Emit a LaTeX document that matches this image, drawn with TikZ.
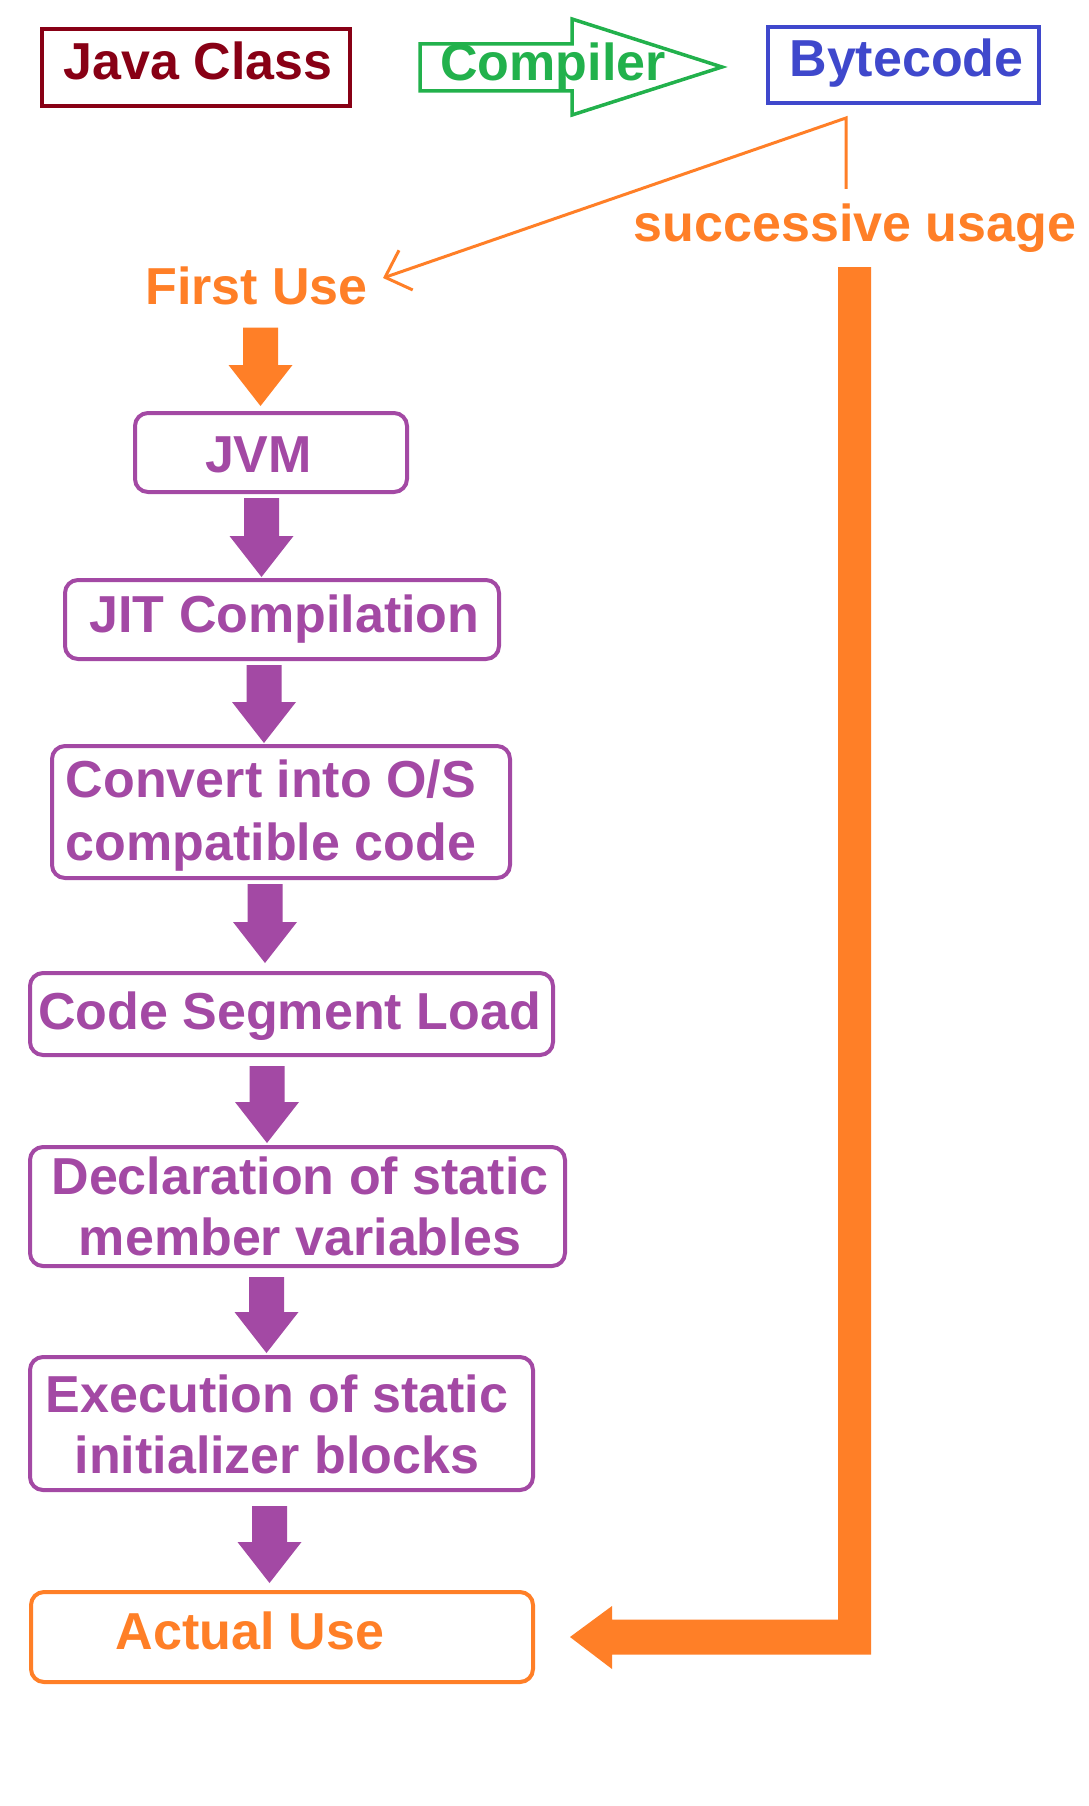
\documentclass[tikz,border=0pt]{standalone}
\usepackage{fontspec}
\setmainfont{Liberation Sans}
\usetikzlibrary{arrows.meta,calc}
\definecolor{jdred}{HTML}{880015}
\definecolor{jgreen}{HTML}{22B14C}
\definecolor{jblue}{HTML}{3F48CC}
\definecolor{jorange}{HTML}{FF7F27}
\definecolor{jpurple}{HTML}{A349A4}
\tikzset{
  txt/.style={inner sep=0pt, anchor=base, font=\fontsize{52}{62}\selectfont\bfseries},
  sqbox/.style={draw=#1, line width=4pt, inner sep=0pt},
  rbox/.style={draw=#1, line width=4pt, rounded corners=13pt, inner sep=0pt},
}
% #1 colour, #2 from node, #3 to node, #4 x centre, #5 gap below source, #6 gap above target
\newcommand\blockarrow[6]{%
  \fill[#1] let \p1=(#2.south), \p2=(#3.north) in
    ({#4pt-17.5pt},{\y1-#5pt}) -- ({#4pt+17.5pt},{\y1-#5pt}) --
    ({#4pt+17.5pt},{\y2+#6pt+41pt}) -- ({#4pt+32pt},{\y2+#6pt+41pt}) --
    ({#4pt},{\y2+#6pt}) -- ({#4pt-32pt},{\y2+#6pt+41pt}) --
    ({#4pt-17.5pt},{\y2+#6pt+41pt}) -- cycle;}
\begin{document}
\begin{tikzpicture}[x=1pt,y=-1pt]
\useasboundingbox[fill=white] (0,0) rectangle (1088,1806);

% top row
\node[sqbox=jdred, minimum width=308pt, minimum height=77pt] (javabox) at (196,67.5) {};
\node[txt, text=jdred] (java) at (198,80) {Java Class};

\draw[jgreen, line width=3.5pt, line join=miter]
  (420,44) -- (572,44) -- (572,19) -- (722,67) -- (572,115) -- (572,91) -- (420,91) -- cycle;
\node[txt, text=jgreen] (compiler) at (553,81) {Compiler};

\node[sqbox=jblue, minimum width=271pt, minimum height=76pt] (bytecode) at (903.5,65) {};
\node[txt, text=jblue] (bytetxt) at (906.5,77) {Bytecode};

% orange labels and thin connector
\node[txt, text=jorange] (succ) at (855,241) {successive usage};
\node[txt, text=jorange] (first) at (256.5,304) {First Use};
\coordinate (fork) at (846,118);
\coordinate (succtop) at (846,189);
\coordinate (firsttip) at (383,278);
\draw[jorange, line width=3pt, -{Straight Barb[length=22pt,width=42pt]}]
  (succtop) -- (fork) -- (firsttip);

% flow boxes
\node[rbox=jpurple, minimum width=272pt, minimum height=79pt] (jvm) at (271,452.5) {};
\node[txt, text=jpurple] (jvmtxt) at (258.5,472) {JVM};

\node[rbox=jpurple, minimum width=434pt, minimum height=79pt] (jit) at (282,619.5) {};
\node[txt, text=jpurple] (jittxt) at (284.5,632) {JIT Compilation};

\node[rbox=jpurple, minimum width=458pt, minimum height=132pt] (conv) at (281,812) {};
\node[txt, text=jpurple] (conva) at (271,797) {Convert into O/S};
\node[txt, text=jpurple] (convb) at (271,860) {compatible code};

\node[rbox=jpurple, minimum width=523pt, minimum height=82pt] (code) at (291.5,1014) {};
\node[txt, text=jpurple] (codetxt) at (289.5,1029) {Code Segment Load};

\node[rbox=jpurple, minimum width=535pt, minimum height=119pt] (decl) at (297.5,1206.5) {};
\node[txt, text=jpurple] (decla) at (300,1194) {Declaration of static};
\node[txt, text=jpurple] (declb) at (300,1255) {member variables};

\node[rbox=jpurple, minimum width=503pt, minimum height=133pt] (exec) at (281.5,1423.5) {};
\node[txt, text=jpurple] (execa) at (277,1412) {Execution of static};
\node[txt, text=jpurple] (execb) at (277,1473) {initializer blocks};

\node[rbox=jorange, minimum width=502pt, minimum height=90pt] (actual) at (282,1637) {};
\node[txt, text=jorange] (actualtxt) at (250,1649) {Actual Use};

% block arrows
\blockarrow{jorange}{first}{jvm}{260.5}{23}{5}
\blockarrow{jpurple}{jvm}{jit}{261.5}{4}{1}
\blockarrow{jpurple}{jit}{conv}{264}{4}{1}
\blockarrow{jpurple}{conv}{code}{265}{4}{8}
\blockarrow{jpurple}{code}{decl}{267}{9}{2}
\blockarrow{jpurple}{decl}{exec}{266.5}{9}{2}
\blockarrow{jpurple}{exec}{actual}{269.5}{14}{7}

% successive usage thick connector
\coordinate (bartop) at (854.5,267);
\fill[jorange] let \p1=(actual.east), \p2=(bartop) in
  ({\x2-16.5pt},{\y2}) -- ({\x2+16.5pt},{\y2}) -- ({\x2+16.5pt},{\y1-17.5pt}) --
  ({\x1+77pt},{\y1-17.5pt}) -- ({\x1+77pt},{\y1-32pt}) -- ({\x1+35pt},{\y1}) --
  ({\x1+77pt},{\y1+31pt}) -- ({\x1+77pt},{\y1+17.5pt}) --
  ({\x2-16.5pt},{\y1+17.5pt}) -- cycle;
\end{tikzpicture}
\end{document}
